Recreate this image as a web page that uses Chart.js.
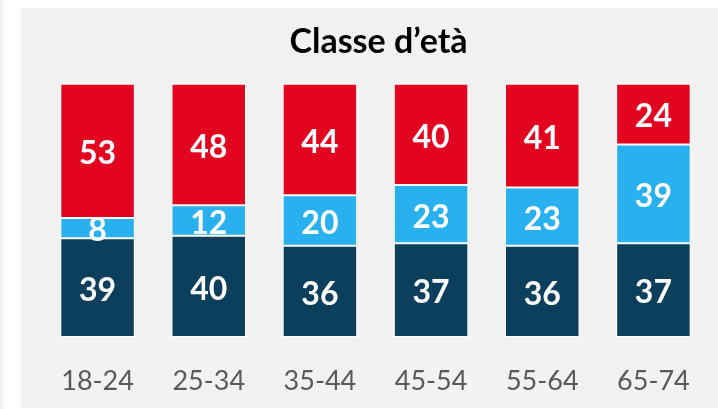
<!DOCTYPE html>
<html>
<head>
<meta charset="utf-8">
<script src="https://cdn.jsdelivr.net/npm/chart.js@4/dist/chart.umd.min.js"></script>
<style>
  html, body { margin: 0; padding: 0; background: #ffffff; }
  #wrap { width: 718px; height: 409px; }
</style>
</head>
<body>
<div id="wrap"><canvas id="chart" width="718" height="409"></canvas></div>
<script>
const categories = ["18-24", "25-34", "35-44", "45-54", "55-64", "65-74"];
const darkValues = [39, 40, 36, 37, 36, 37];
const blueValues = [8, 12, 20, 23, 23, 39];
const redValues = [53, 48, 44, 40, 41, 24];
const titleText = "Classe d\u2019et\u00e0";

const panelPlugin = {
  id: "panel",
  beforeDraw(chart) {
    const ctx = chart.ctx;
    ctx.save();
    ctx.fillStyle = "#f2f2f2";
    ctx.fillRect(0, 0, 3, chart.height);
    ctx.fillRect(21, 8, chart.width - 21, chart.height - 9);
    ctx.restore();
  },
};

const valueLabels = {
  id: "valueLabels",
  afterDatasetsDraw(chart) {
    const ctx = chart.ctx;
    ctx.save();
    ctx.fillStyle = "#ffffff";
    ctx.font = "bold 32px Lato, 'Open Sans', sans-serif";
    ctx.textAlign = "center";
    ctx.textBaseline = "middle";
    chart.data.datasets.forEach((dataset, i) => {
      const meta = chart.getDatasetMeta(i);
      meta.data.forEach((bar, j) => {
        const y = (bar.y + bar.base) / 2 + 3;
        ctx.fillText(String(dataset.data[j]), bar.x, y);
      });
    });
    ctx.restore();
  },
};

new Chart(document.getElementById("chart"), {
  type: "bar",
  data: {
    labels: categories,
    datasets: [
      { label: "dark", data: darkValues, backgroundColor: "#0b3f5c" },
      { label: "blue", data: blueValues, backgroundColor: "#29b1ef" },
      { label: "red", data: redValues, backgroundColor: "#e30420" },
    ],
  },
  options: {
    responsive: false,
    animation: false,
    layout: { padding: { left: 42, right: 3, top: 8, bottom: 14 } },
    datasets: {
      bar: {
        categoryPercentage: 1,
        barPercentage: 0.67,
        borderColor: "#ffffff",
        borderWidth: 1,
        borderSkipped: false,
      },
    },
    plugins: {
      legend: { display: false },
      tooltip: { enabled: false },
      title: {
        display: true,
        text: titleText,
        color: "#000000",
        font: { family: "Lato, 'Open Sans', sans-serif", size: 34, weight: "bold", lineHeight: 1.2 },
        padding: { top: 14, bottom: 21 },
      },
    },
    scales: {
      x: {
        stacked: true,
        grid: { display: false, drawTicks: false },
        border: { display: false },
        afterFit(scale) {
          scale.height = 58;
        },
        ticks: {
          color: "#595959",
          padding: 28,
          font: { family: "Lato, 'Open Sans', sans-serif", size: 27, lineHeight: 1.2 },
        },
      },
      y: {
        stacked: true,
        display: false,
        min: 0,
        max: 100,
      },
    },
  },
  plugins: [panelPlugin, valueLabels],
});
</script>
</body>
</html>
